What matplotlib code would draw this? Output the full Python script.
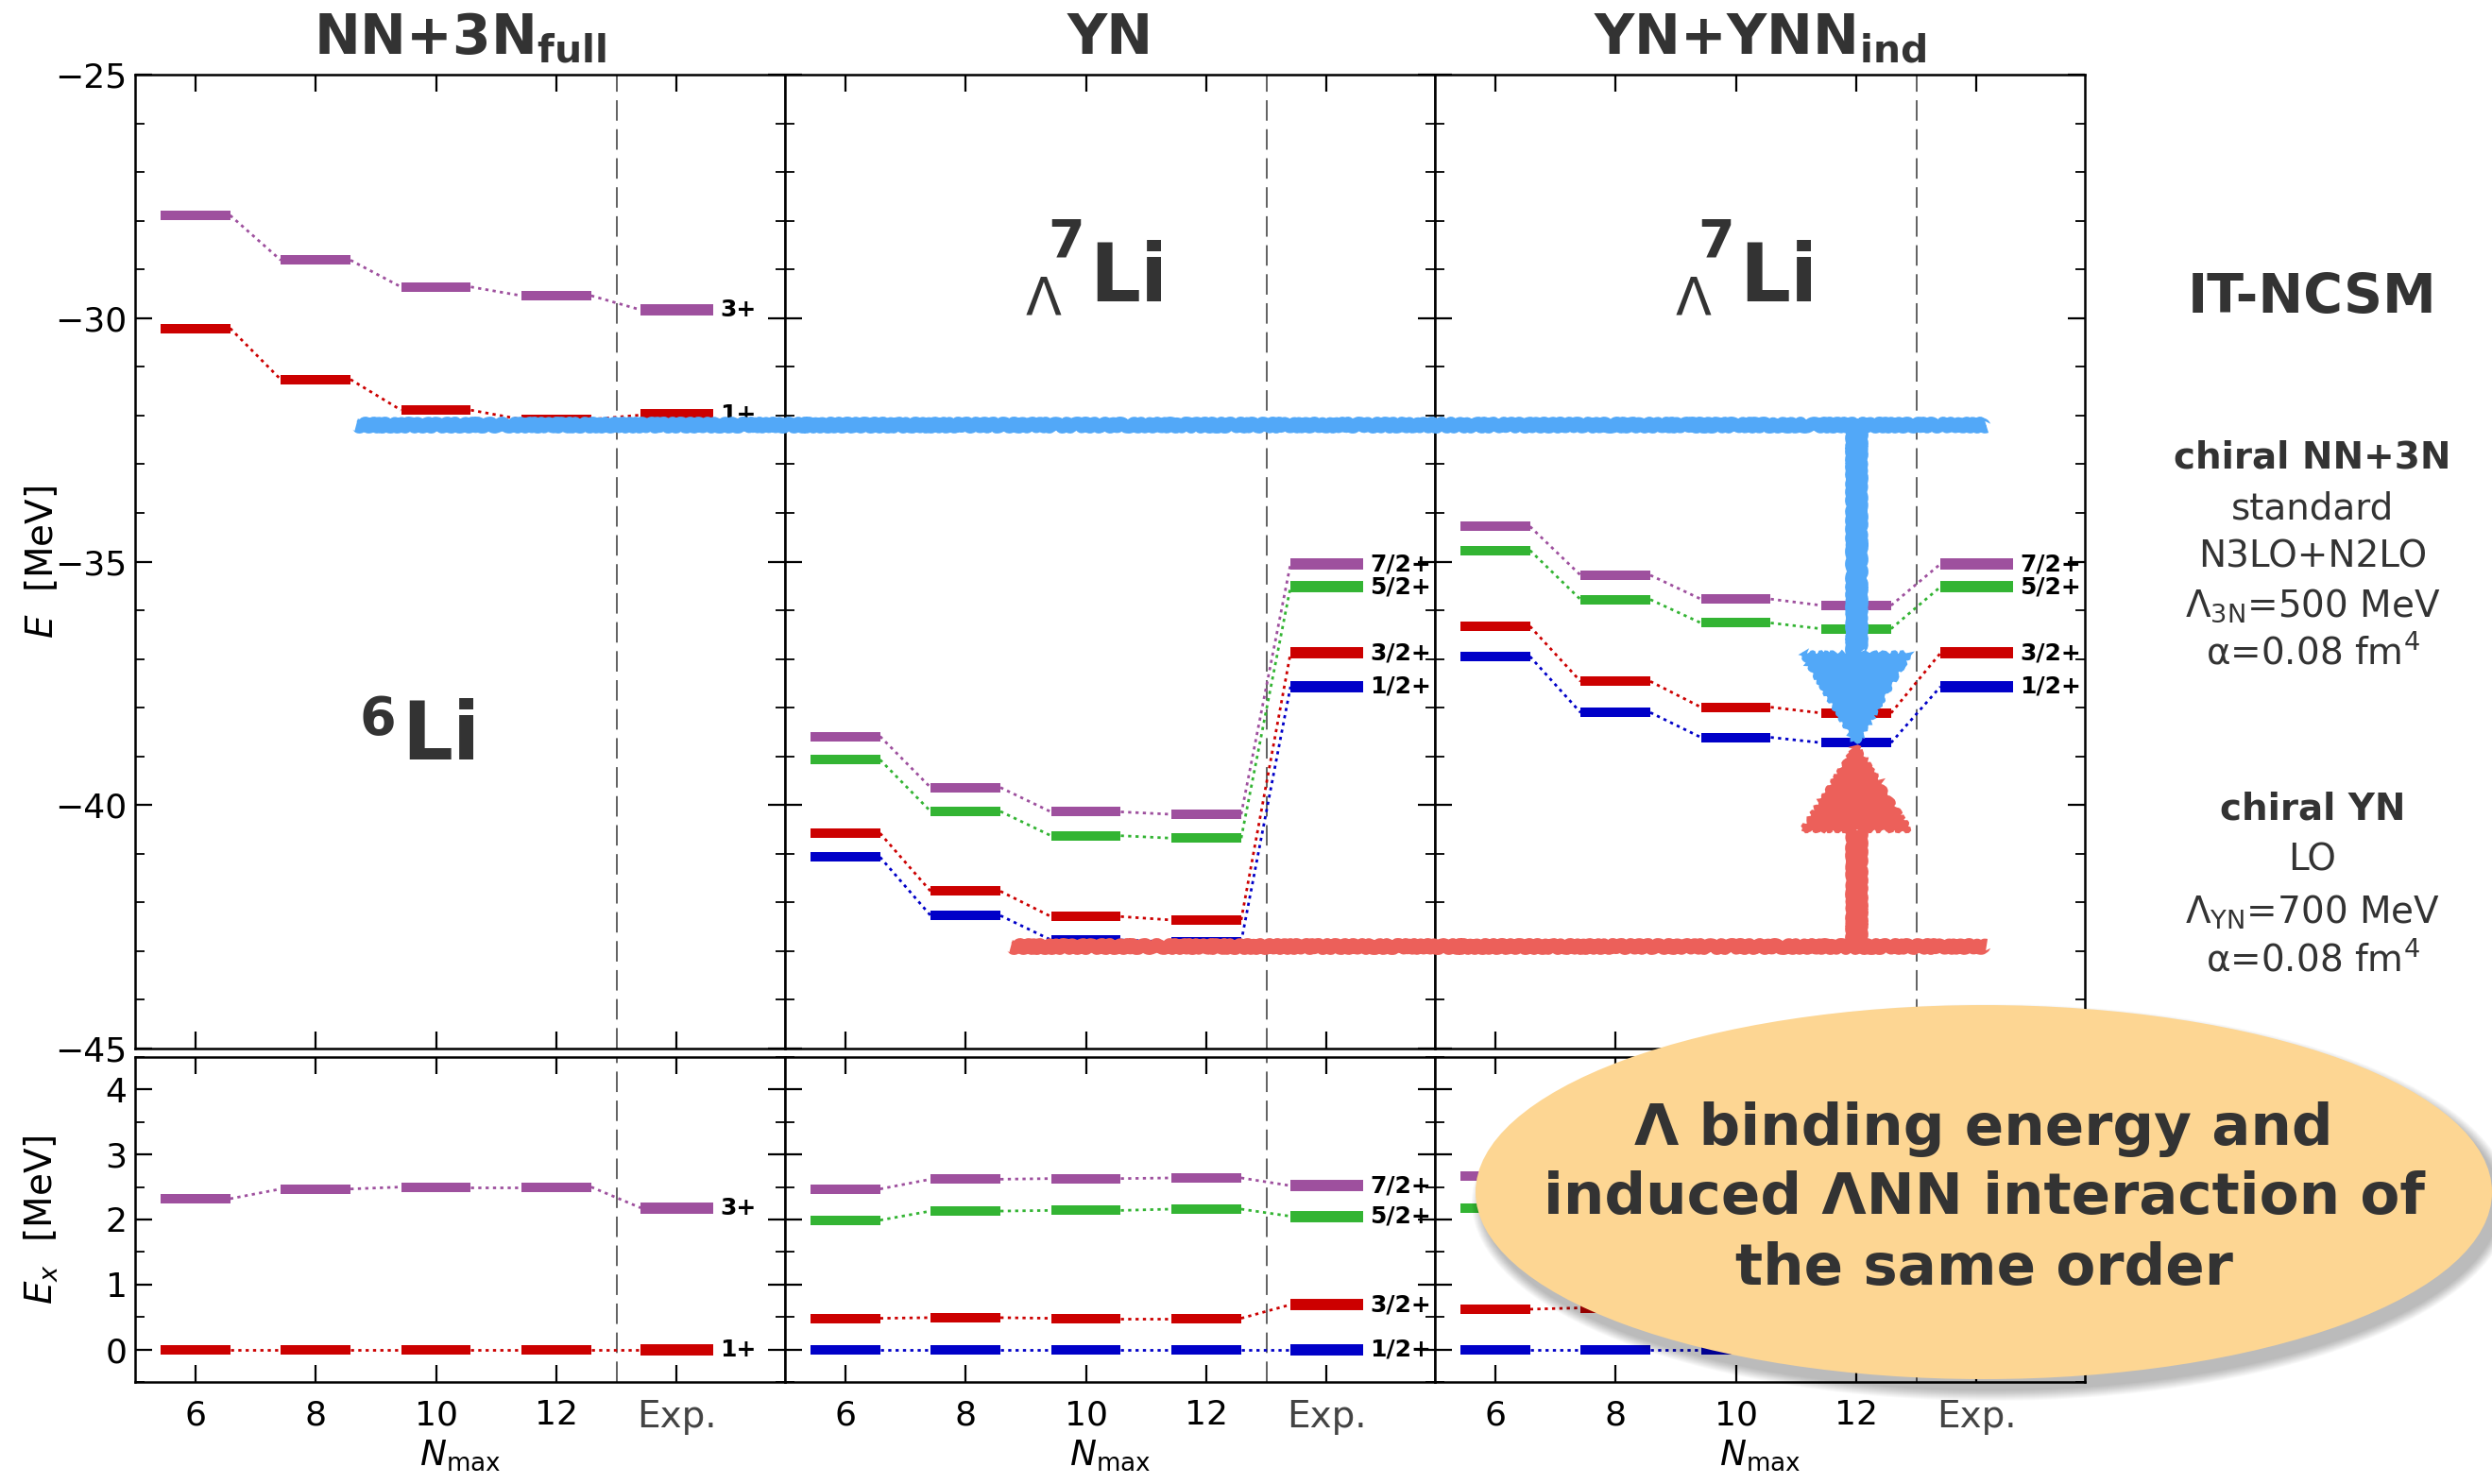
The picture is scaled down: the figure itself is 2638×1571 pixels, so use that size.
import numpy as np
import matplotlib
matplotlib.use('Agg')
import matplotlib.pyplot as plt
from matplotlib.patches import Ellipse, Polygon
from matplotlib.ticker import MultipleLocator, NullLocator

plt.rcParams['font.family'] = ['DejaVu Sans']
plt.rcParams['mathtext.fontset'] = 'dejavusans'

W, H, DPI = 2638, 1571, 100

# ---- data ----
NMAX = [6, 8, 10, 12]
EXP_POS = 14
XTICK_LABELS = ['6', '8', '10', '12', 'Exp.']
PANEL_TITLES = [r'NN+3N$_{\bf full}$', 'YN', r'YN+YNN$_{\bf ind}$']

li6_states = ['3+', '1+']
li6_colors = ['#9e509e', '#cc0000']
li6_E = [[-27.89, -28.81, -29.36, -29.54],
         [-30.21, -31.26, -31.89, -32.08]]
li6_E_exp = [-29.83, -31.99]
li6_Ex = [[2.32, 2.47, 2.50, 2.50],
          [0.0, 0.0, 0.0, 0.0]]
li6_Ex_exp = [2.18, 0.0]

hyp_states = ['7/2+', '5/2+', '3/2+', '1/2+']
hyp_colors = ['#9e509e', '#33b433', '#cc0000', '#0000c8']
hyp_E_exp = [-35.05, -35.52, -36.88, -37.57]
hyp_Ex_exp = [2.52, 2.05, 0.69, 0.0]

yn_E = [[-38.59, -39.64, -40.14, -40.19],
        [-39.07, -40.13, -40.63, -40.68],
        [-40.58, -41.77, -42.29, -42.36],
        [-41.07, -42.27, -42.77, -42.81]]
yn_Ex = [[2.47, 2.62, 2.63, 2.64],
         [1.99, 2.13, 2.14, 2.16],
         [0.48, 0.49, 0.48, 0.48],
         [0.0, 0.0, 0.0, 0.0]]

ynn_E = [[-34.28, -35.28, -35.77, -35.90],
         [-34.77, -35.78, -36.26, -36.38],
         [-36.33, -37.46, -37.99, -38.11],
         [-36.95, -38.10, -38.61, -38.72]]
ynn_Ex = [[2.67, 2.82, 2.84, 2.82],
          [2.18, 2.32, 2.35, 2.34],
          [0.62, 0.64, 0.62, 0.61],
          [0.0, 0.0, 0.0, 0.0]]

# hand-drawn reference lines (MeV)
BLUE_LEVEL = -32.2
RED_LEVEL = -42.9

RIGHT_TEXT = [('IT-NCSM', 316, 41, 'bold'),
              ('chiral NN+3N', 485, 28, 'bold'),
              ('standard', 538, 28, 'normal'),
              ('N3LO+N2LO', 589, 28, 'normal'),
              (r'Λ$_{\rm 3N}$=500 MeV', 641, 28, 'normal'),
              (r'α=0.08 fm$^4$', 691, 28, 'normal'),
              ('chiral YN', 856, 28, 'bold'),
              ('LO', 910, 28, 'normal'),
              (r'Λ$_{\rm YN}$=700 MeV', 966, 28, 'normal'),
              (r'α=0.08 fm$^4$', 1016, 28, 'normal')]
BUBBLE_LINES = ['Λ binding energy and', 'induced ΛNN interaction of', 'the same order']

# ---- layout ----
XLIM = (5, 15.8)
SPAN = XLIM[1] - XLIM[0]
HW, HW_EXP = 0.58, 0.60
PANEL_LEFT = [143, 831, 1519]
PANEL_W = 688
TOP_Y0, TOP_Y1 = 79, 1110
BOT_Y0, BOT_Y1 = 1119, 1463
DARK = '#333333'


def fig_rect(x0, y0, w, h):
    return [x0 / W, 1 - (y0 + h) / H, w / W, h / H]


def setup(ax, ylim, major, minor):
    ax.set_xlim(*XLIM)
    ax.set_ylim(*ylim)
    ax.set_xticks(NMAX + [EXP_POS], XTICK_LABELS)
    ax.xaxis.set_minor_locator(NullLocator())
    ax.yaxis.set_major_locator(MultipleLocator(major))
    ax.yaxis.set_minor_locator(MultipleLocator(minor))
    ax.tick_params(which='both', direction='in', top=True, right=True)
    ax.tick_params(which='major', length=13, width=1.6, labelsize=26)
    ax.tick_params(which='minor', length=7, width=1.3)
    ax.tick_params(axis='x', pad=13)
    ax.tick_params(axis='y', pad=6)
    for s in ax.spines.values():
        s.set_linewidth(1.8)
    ax.axvline(13, color='#555555', lw=1.3, ls=(0, (12, 5)), zorder=1)
    lbl = ax.get_xticklabels()[-1]
    lbl.set_color('#444444')
    lbl.set_fontsize(28)


def draw_spectrum(ax, values, exp_values, colors, states, labels=True):
    xs = NMAX + [EXP_POS]
    for vals, ev, col, st in zip(values, exp_values, colors, states):
        ys = list(vals) + [ev]
        ax.hlines(vals, np.array(NMAX) - HW, np.array(NMAX) + HW, colors=col,
                  lw=7.2, capstyle='butt', zorder=3)
        ax.hlines(ev, EXP_POS - HW_EXP, EXP_POS + HW_EXP, colors=col,
                  lw=8.6, capstyle='butt', zorder=3)
        for i in range(len(xs) - 1):
            x1 = xs[i + 1] - (HW_EXP if xs[i + 1] == EXP_POS else HW)
            ax.plot([xs[i] + HW, x1], [ys[i], ys[i + 1]], color=col, lw=2,
                    ls=(0, (1.2, 1.6)), zorder=2)
        if labels:
            ax.text(EXP_POS + HW_EXP + 0.12, ev, st, fontsize=18, fontweight='bold',
                    ha='left', va='center', clip_on=False, zorder=4)


fig = plt.figure(figsize=(W / DPI, H / DPI), dpi=DPI)

top_axes, bot_axes = [], []
for i in range(3):
    at = fig.add_axes(fig_rect(PANEL_LEFT[i], TOP_Y0, PANEL_W, TOP_Y1 - TOP_Y0))
    ab = fig.add_axes(fig_rect(PANEL_LEFT[i], BOT_Y0, PANEL_W, BOT_Y1 - BOT_Y0))
    setup(at, (-45, -25), 5, 1)
    setup(ab, (-0.5, 4.5), 1, 0.5)
    at.tick_params(labelbottom=False)
    if i > 0:
        at.tick_params(labelleft=False)
        ab.tick_params(labelleft=False)
    at.set_title(PANEL_TITLES[i], fontsize=42, fontweight='bold', color=DARK, pad=16)
    ab.set_xlabel(r'$N_{\rm max}$', fontsize=27)
    ab.xaxis.set_label_coords(0.5, -0.172)
    top_axes.append(at)
    bot_axes.append(ab)

top_axes[0].set_ylabel(r'$E$  [MeV]', fontsize=28)
bot_axes[0].set_ylabel(r'$E_x$  [MeV]', fontsize=28)
top_axes[0].yaxis.set_label_coords(-0.115, 0.5)
bot_axes[0].yaxis.set_label_coords(-0.115, 0.5)

draw_spectrum(top_axes[0], li6_E, li6_E_exp, li6_colors, li6_states)
draw_spectrum(bot_axes[0], li6_Ex, li6_Ex_exp, li6_colors, li6_states)
draw_spectrum(top_axes[1], yn_E, hyp_E_exp, hyp_colors, hyp_states)
draw_spectrum(bot_axes[1], yn_Ex, hyp_Ex_exp, hyp_colors, hyp_states)
draw_spectrum(top_axes[2], ynn_E, hyp_E_exp, hyp_colors, hyp_states)
# labels of this panel sit under the speech bubble
draw_spectrum(bot_axes[2], ynn_Ex, hyp_Ex_exp, hyp_colors, hyp_states, labels=False)

# nucleus labels
ax = top_axes[0]
ax.text(0.41, 0.297, 'Li', transform=ax.transAxes, fontsize=61, fontweight='bold',
        color=DARK, ha='left', va='baseline')
ax.text(0.401, 0.323, '6', transform=ax.transAxes, fontsize=40, fontweight='bold',
        color=DARK, ha='right', va='baseline')
for ax in top_axes[1:]:
    ax.text(0.469, 0.767, 'Li', transform=ax.transAxes, fontsize=61, fontweight='bold',
            color=DARK, ha='left', va='baseline')
    ax.text(0.432, 0.813, '7', transform=ax.transAxes, fontsize=40, fontweight='bold',
            color=DARK, ha='center', va='baseline')
    ax.text(0.397, 0.754, 'Λ', transform=ax.transAxes, fontsize=40,
            color=DARK, ha='center', va='baseline')

# hand-drawn arrows across the upper panels
ov = fig.add_axes(fig_rect(PANEL_LEFT[0], TOP_Y0, 3 * PANEL_W, TOP_Y1 - TOP_Y0), zorder=5)
ov.set_xlim(XLIM[0], XLIM[0] + 3 * SPAN)
ov.set_ylim(-45, -25)
ov.axis('off')


def gx(panel, x):
    return x + panel * SPAN


BLUE, RED = '#52a8f8', '#ec605a'
arrow_x = gx(2, NMAX[-1])
tip = ynn_E[3][-1]
sk = (2.0, 12, 4)

for col, lev, x0, head_base, tip_y in [(BLUE, BLUE_LEVEL, gx(0, 8.67), -36.9, tip),
                                       (RED, RED_LEVEL, gx(1, 8.75), -40.5, tip - 0.08)]:
    l1, = ov.plot([x0, gx(2, 14.17)], [lev, lev], color=col, lw=10, solid_capstyle='butt')
    l2, = ov.plot([arrow_x, arrow_x], [lev, head_base], color=col, lw=15, solid_capstyle='butt')
    head = Polygon([(arrow_x - 0.88, head_base), (arrow_x + 0.88, head_base), (arrow_x, tip_y)],
                   closed=True, facecolor=col, edgecolor=col, lw=3)
    ov.add_patch(head)
    for a in (l1, l2, head):
        a.set_sketch_params(*sk)

# right-hand annotation
for txt, yc, fs, fw in RIGHT_TEXT:
    fig.text(2448 / W, 1 - yc / H, txt, fontsize=fs, fontweight=fw, color=DARK,
             ha='center', va='center')

# speech bubble with soft shadow
cx, cy, ew, eh = 2100, 1262, 1076, 396
for k in range(12):
    g = (12 - k) * 2.0
    fig.add_artist(Ellipse(((cx + 8) / W, 1 - (cy + 11) / H), (ew + g) / W, (eh + g) / H,
                           transform=fig.transFigure, facecolor='black', edgecolor='none',
                           alpha=0.025, zorder=9))
fig.add_artist(Ellipse((cx / W, 1 - cy / H), ew / W, eh / H, transform=fig.transFigure,
                       facecolor='#fdd693', edgecolor='none', zorder=10))
for txt, yb in zip(BUBBLE_LINES, [1212, 1285, 1360]):
    fig.text(cx / W, 1 - yb / H, txt, fontsize=44, fontweight='bold', color=DARK,
             ha='center', va='baseline', zorder=11)

fig.savefig('out.png', dpi=DPI)
